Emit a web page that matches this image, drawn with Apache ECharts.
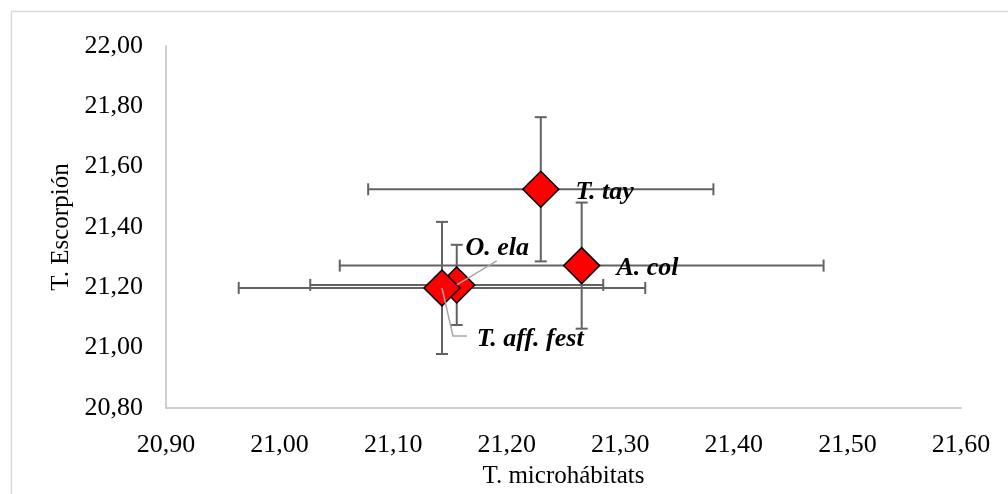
<!DOCTYPE html>
<html>
<head>
<meta charset="utf-8">
<script src="https://cdn.jsdelivr.net/npm/echarts@6/dist/echarts.min.js"></script>
<style>
html,body{margin:0;padding:0;background:#fff;}
#chart{width:1008px;height:494px;}
</style>
</head>
<body>
<div id="chart"></div>
<script>
// especies y temperaturas medias (con desviaciones)
var especies = ["T. tay", "A. col", "O. ela", "T. aff. fest"];
var tMicro = [21.230, 21.266, 21.156, 21.143];
var tEscorp = [21.525, 21.272, 21.208, 21.198];
var errMicro = [0.152, 0.213, 0.129, 0.179];
var errEscorp = [0.239, 0.209, 0.133, 0.219];
var xTicks = [20.9, 21.6, 0.1];
var yTicks = [20.8, 22.0, 0.2];

// desplazamiento de etiquetas (dx, dy) y lineas guia (en px, relativas al punto)
var labelMove = [[0, 3], [0, 3], [-26, -37], [0, 51]];
var guias = [null, null, [[0, 0], [40, -24]], [[0, 0], [11, 48], [25, 48]]];

var fuente = "'Liberation Serif', 'Times New Roman', serif";

function coma(v){
	return v.toFixed(2).replace('.', ',');
}

var puntos = [];
var barras = [];
for(var i=0;i<especies.length;i++){
	puntos.push({name: especies[i], value: [tMicro[i], tEscorp[i]]});
	barras.push([tMicro[i], tEscorp[i], errMicro[i], errEscorp[i]]);
}

var myChart = echarts.init(document.getElementById('chart'));
myChart.setOption({
	animation: false,
	graphic: [{
		type: 'rect',
		left: 9, top: 9,
		shape: {width: 1200, height: 700},
		style: {fill: 'none', stroke: '#d9d9d9', lineWidth: 1.5},
		silent: true
	}],
	grid: {left: 166, right: 47, top: 46, bottom: 82},
	xAxis: {
		type: 'value',
		min: xTicks[0], max: xTicks[1], interval: xTicks[2],
		name: 'T. microhábitats',
		nameLocation: 'middle',
		nameGap: 56,
		nameTextStyle: {fontFamily: fuente, fontSize: 25, color: '#000'},
		axisLine: {show: true, onZero: false, lineStyle: {color: '#bfbfbf', width: 1.5}},
		axisTick: {show: false},
		splitLine: {show: false},
		axisLabel: {fontFamily: fuente, fontSize: 26, color: '#000', margin: 24, formatter: coma}
	},
	yAxis: {
		type: 'value',
		min: yTicks[0], max: yTicks[1], interval: yTicks[2],
		name: 'T. Escorpión',
		nameLocation: 'middle',
		nameGap: 92,
		nameTextStyle: {fontFamily: fuente, fontSize: 25, color: '#000'},
		axisLine: {show: true, onZero: false, lineStyle: {color: '#bfbfbf', width: 1.5}},
		axisTick: {show: false},
		splitLine: {show: false},
		axisLabel: {fontFamily: fuente, fontSize: 26, color: '#000', margin: 23, formatter: coma}
	},
	series: [{
		// barras de error
		type: 'custom',
		z: 1,
		data: barras,
		renderItem: function(params, api){
			var x = api.value(0), y = api.value(1);
			var ex = api.value(2), ey = api.value(3);
			var l = api.coord([x - ex, y]);
			var r = api.coord([x + ex, y]);
			var t = api.coord([x, y + ey]);
			var b = api.coord([x, y - ey]);
			var cap = 6;
			var st = {stroke: '#626262', lineWidth: 2};
			var seg = function(x1, y1, x2, y2){
				return {type: 'line', shape: {x1: x1, y1: y1, x2: x2, y2: y2}, style: st};
			};
			return {
				type: 'group',
				children: [
					seg(l[0], l[1], r[0], r[1]),
					seg(l[0], l[1]-cap, l[0], l[1]+cap),
					seg(r[0], r[1]-cap, r[0], r[1]+cap),
					seg(t[0], t[1], b[0], b[1]),
					seg(t[0]-cap, t[1], t[0]+cap, t[1]),
					seg(b[0]-cap, b[1], b[0]+cap, b[1])
				]
			};
		}
	}, {
		type: 'scatter',
		z: 3,
		symbol: 'diamond',
		symbolSize: 36,
		itemStyle: {color: '#ff0000', borderColor: '#000', borderWidth: 1.5, opacity: 1},
		label: {
			show: true,
			position: 'right',
			distance: 16,
			formatter: '{b}',
			fontFamily: fuente,
			fontSize: 26,
			fontWeight: 'bold',
			fontStyle: 'italic',
			color: '#000'
		},
		labelLayout: function(p){
			return {dx: labelMove[p.dataIndex][0], dy: labelMove[p.dataIndex][1]};
		},
		data: puntos
	}, {
		// lineas guia de las etiquetas
		type: 'custom',
		z: 4,
		silent: true,
		data: puntos,
		renderItem: function(params, api){
			var g = guias[params.dataIndex];
			if(!g){
				return null;
			}
			var c = api.coord([api.value(0), api.value(1)]);
			var pts = [];
			for(var k=0;k<g.length;k++){
				pts.push([c[0] + g[k][0], c[1] + g[k][1]]);
			}
			return {
				type: 'polyline',
				shape: {points: pts},
				style: {stroke: '#a6a6a6', lineWidth: 1.5, fill: null}
			};
		}
	}]
});
</script>
</body>
</html>
